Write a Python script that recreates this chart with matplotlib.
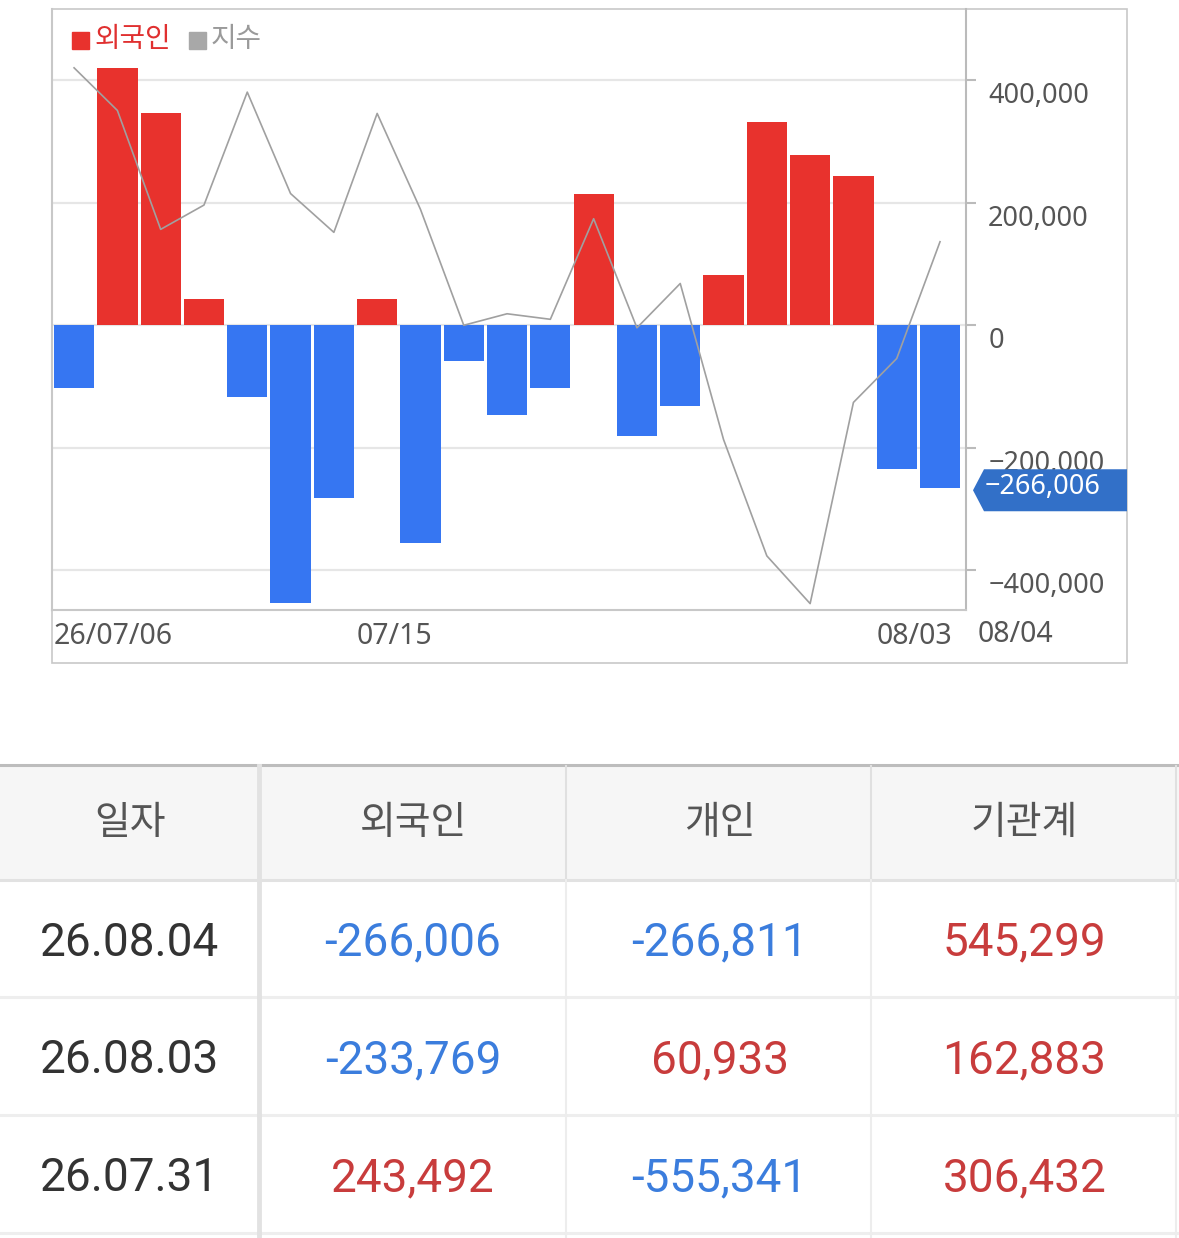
import matplotlib
matplotlib.use("Agg")
import matplotlib.pyplot as plt
from matplotlib.patches import Rectangle, Polygon
from matplotlib.ticker import FuncFormatter
from matplotlib.transforms import ScaledTranslation

# chart data (foreign net buying, index line)
dates = ["26/07/06", "07/07", "07/08", "07/09", "07/10", "07/13", "07/14", "07/15",
         "07/16", "07/20", "07/21", "07/22", "07/23", "07/24", "07/27", "07/28",
         "07/29", "07/30", "07/31", "08/03", "08/04"]
foreign = [-102000, 420000, 346000, 43000, -117000, -454000, -282000, 43000,
           -356000, -58000, -146000, -102000, 214000, -181000, -131000, 82000,
           331000, 278000, 243492, -233769, -266006]
index_line = [3200.0, 3180.0, 3124.2, 3135.6, 3188.6, 3141.0, 3122.8, 3178.6,
              3133.6, 3079.2, 3084.6, 3082.0, 3129.2, 3078.0, 3098.8, 3025.6,
              2971.0, 2948.6, 3043.0, 3063.6, 3118.4]
yticks = [400000, 200000, 0, -200000, -400000]
shown_dates = [0, 7, 19]

# table data
headers = ["일자", "외국인", "개인", "기관계"]
table_dates = ["26.08.04", "26.08.03", "26.07.31"]
table_foreign = [-266006, -233769, 243492]
table_personal = [-266811, 60933, -555341]
table_inst = [545299, 162883, 306432]

RED = "#e8322d"
BLUE = "#3676f2"
W, H = 1179, 1238
CJK = ["Noto Sans", "Noto Sans CJK KR", "DejaVu Sans"]

plt.rcParams["font.family"] = CJK

fig = plt.figure(figsize=(W / 100, H / 100), dpi=100)

# background layer in pixel coords
bg = fig.add_axes([0, 0, 1, 1], zorder=0)
bg.set_xlim(0, W)
bg.set_ylim(H, 0)
bg.axis("off")
bg.add_patch(Rectangle((52, 9), 1127 - 52, 663 - 9, facecolor="white",
                       edgecolor="#c8c8c8", lw=1.2))

# chart
ax = fig.add_axes([52 / W, 1 - 610 / H, (966 - 52) / W, (610 - 9) / H], zorder=1)
ax.patch.set_alpha(0)
ax2 = ax.twinx()

x = list(range(len(foreign)))
colors = [RED if v >= 0 else BLUE for v in foreign]
bw = 0.93
ax.bar(x, foreign, width=bw, color=colors, zorder=2)
ax.set_xlim(-0.51, 20.6)
ax.set_ylim(-464700, 516200)
ax.yaxis.tick_right()
ax.set_yticks(yticks)
ax.yaxis.set_major_formatter(FuncFormatter(lambda v, p: f"{v:,.0f}".replace("-", "\u2212")))
ax.grid(axis="y", color="#e6e6e6", lw=1.6)
ax.set_axisbelow(True)
ax.tick_params(axis="y", length=7, width=1.5, color="#bbbbbb", pad=9,
               labelsize=19.5, labelcolor="#555555")
for lab in ax.get_yticklabels():
    lab.set_transform(lab.get_transform() + ScaledTranslation(0, -0.125, fig.dpi_scale_trans))

ax.set_xticks([i - bw / 2 for i in shown_dates], [dates[i] for i in shown_dates])
ax.tick_params(axis="x", length=0, pad=9, labelsize=20.5, labelcolor="#555555")
for lab in ax.get_xticklabels():
    lab.set_ha("left")

ax.spines["top"].set_visible(False)
ax.spines["left"].set_color("#c8c8c8")
ax.spines["bottom"].set_color("#c8c8c8")
ax.spines["right"].set_color("#bbbbbb")
for s in ["left", "bottom", "right"]:
    ax.spines[s].set_linewidth(1.5)

ax2.plot(x, index_line, color="#a0a0a0", lw=1.2, zorder=3)
ax2.set_ylim(2945.6, 3227.6)
ax2.axis("off")

# overlay layer for legend, last value flag, last date
ov = fig.add_axes([0, 0, 1, 1], zorder=5)
ov.set_xlim(0, W)
ov.set_ylim(H, 0)
ov.axis("off")
ov.patch.set_alpha(0)

ov.add_patch(Rectangle((72, 32), 17, 17, color=RED))
ov.text(95, 40, "외국인", color="#e03030", fontsize=20, va="center", ha="left")
ov.add_patch(Rectangle((189, 32), 17, 17, color="#a8a8a8"))
ov.text(211, 40, "지수", color="#9a9a9a", fontsize=20, va="center", ha="left")

last = foreign[-1]
y_last = H - ax.transData.transform((0, last))[1]
x0 = 966
ov.add_patch(Polygon([(x0 + 7, y_last + 2), (x0 + 18, y_last - 19), (1127, y_last - 19),
                      (1127, y_last + 23), (x0 + 18, y_last + 23)],
                     closed=True, color="#3270c8", lw=0))
ov.text(x0 + 19, y_last - 1, f"{last:,}".replace("-", "\u2212"), color="white",
        fontsize=19.5, va="center", ha="left")
ov.text(978, 634, dates[-1], color="#555555", fontsize=20.5, va="center", ha="left")

# table
cols = [0, 258, 566, 871, 1176]
rows = [765, 880, 997, 1115, 1233]
bg.add_patch(Rectangle((0, 766), W, 880 - 766, facecolor="#f6f6f6", lw=0))
bg.plot([0, W], [765, 765], color="#bdbdbd", lw=2.2)
bg.plot([0, W], [880, 880], color="#e2e2e2", lw=2.2)
for r in rows[2:]:
    bg.plot([0, W], [r, r], color="#eeeeee", lw=2.2)
bg.plot([259, 259], [766, H], color="#e2e2e2", lw=3.5)
for c in cols[2:]:
    bg.plot([c, c], [766, 880], color="#e0e0e0", lw=1.5)
    bg.plot([c, c], [880, H], color="#ededed", lw=1.5)

centers = [(cols[i] + cols[i + 1]) / 2 + 1 for i in range(4)]
for cx, h in zip(centers, headers):
    bg.text(cx, 823, h, ha="center", va="center", fontsize=28, color="#555555",
            family="Noto Sans CJK KR")


def num_color(v):
    return "#c83c3c" if v >= 0 else "#3b7ddd"


for i in range(3):
    cy = (rows[i + 1] + rows[i + 2]) / 2 + 4
    bg.text(centers[0], cy, table_dates[i], ha="center", va="center", fontsize=33,
            color="#333333", family="Roboto")
    for j, arr in enumerate([table_foreign, table_personal, table_inst]):
        v = arr[i]
        bg.text(centers[j + 1], cy, f"{v:,}", ha="center", va="center", fontsize=33,
                color=num_color(v), family="Roboto")

fig.savefig("out.png", dpi=100, facecolor="white")
